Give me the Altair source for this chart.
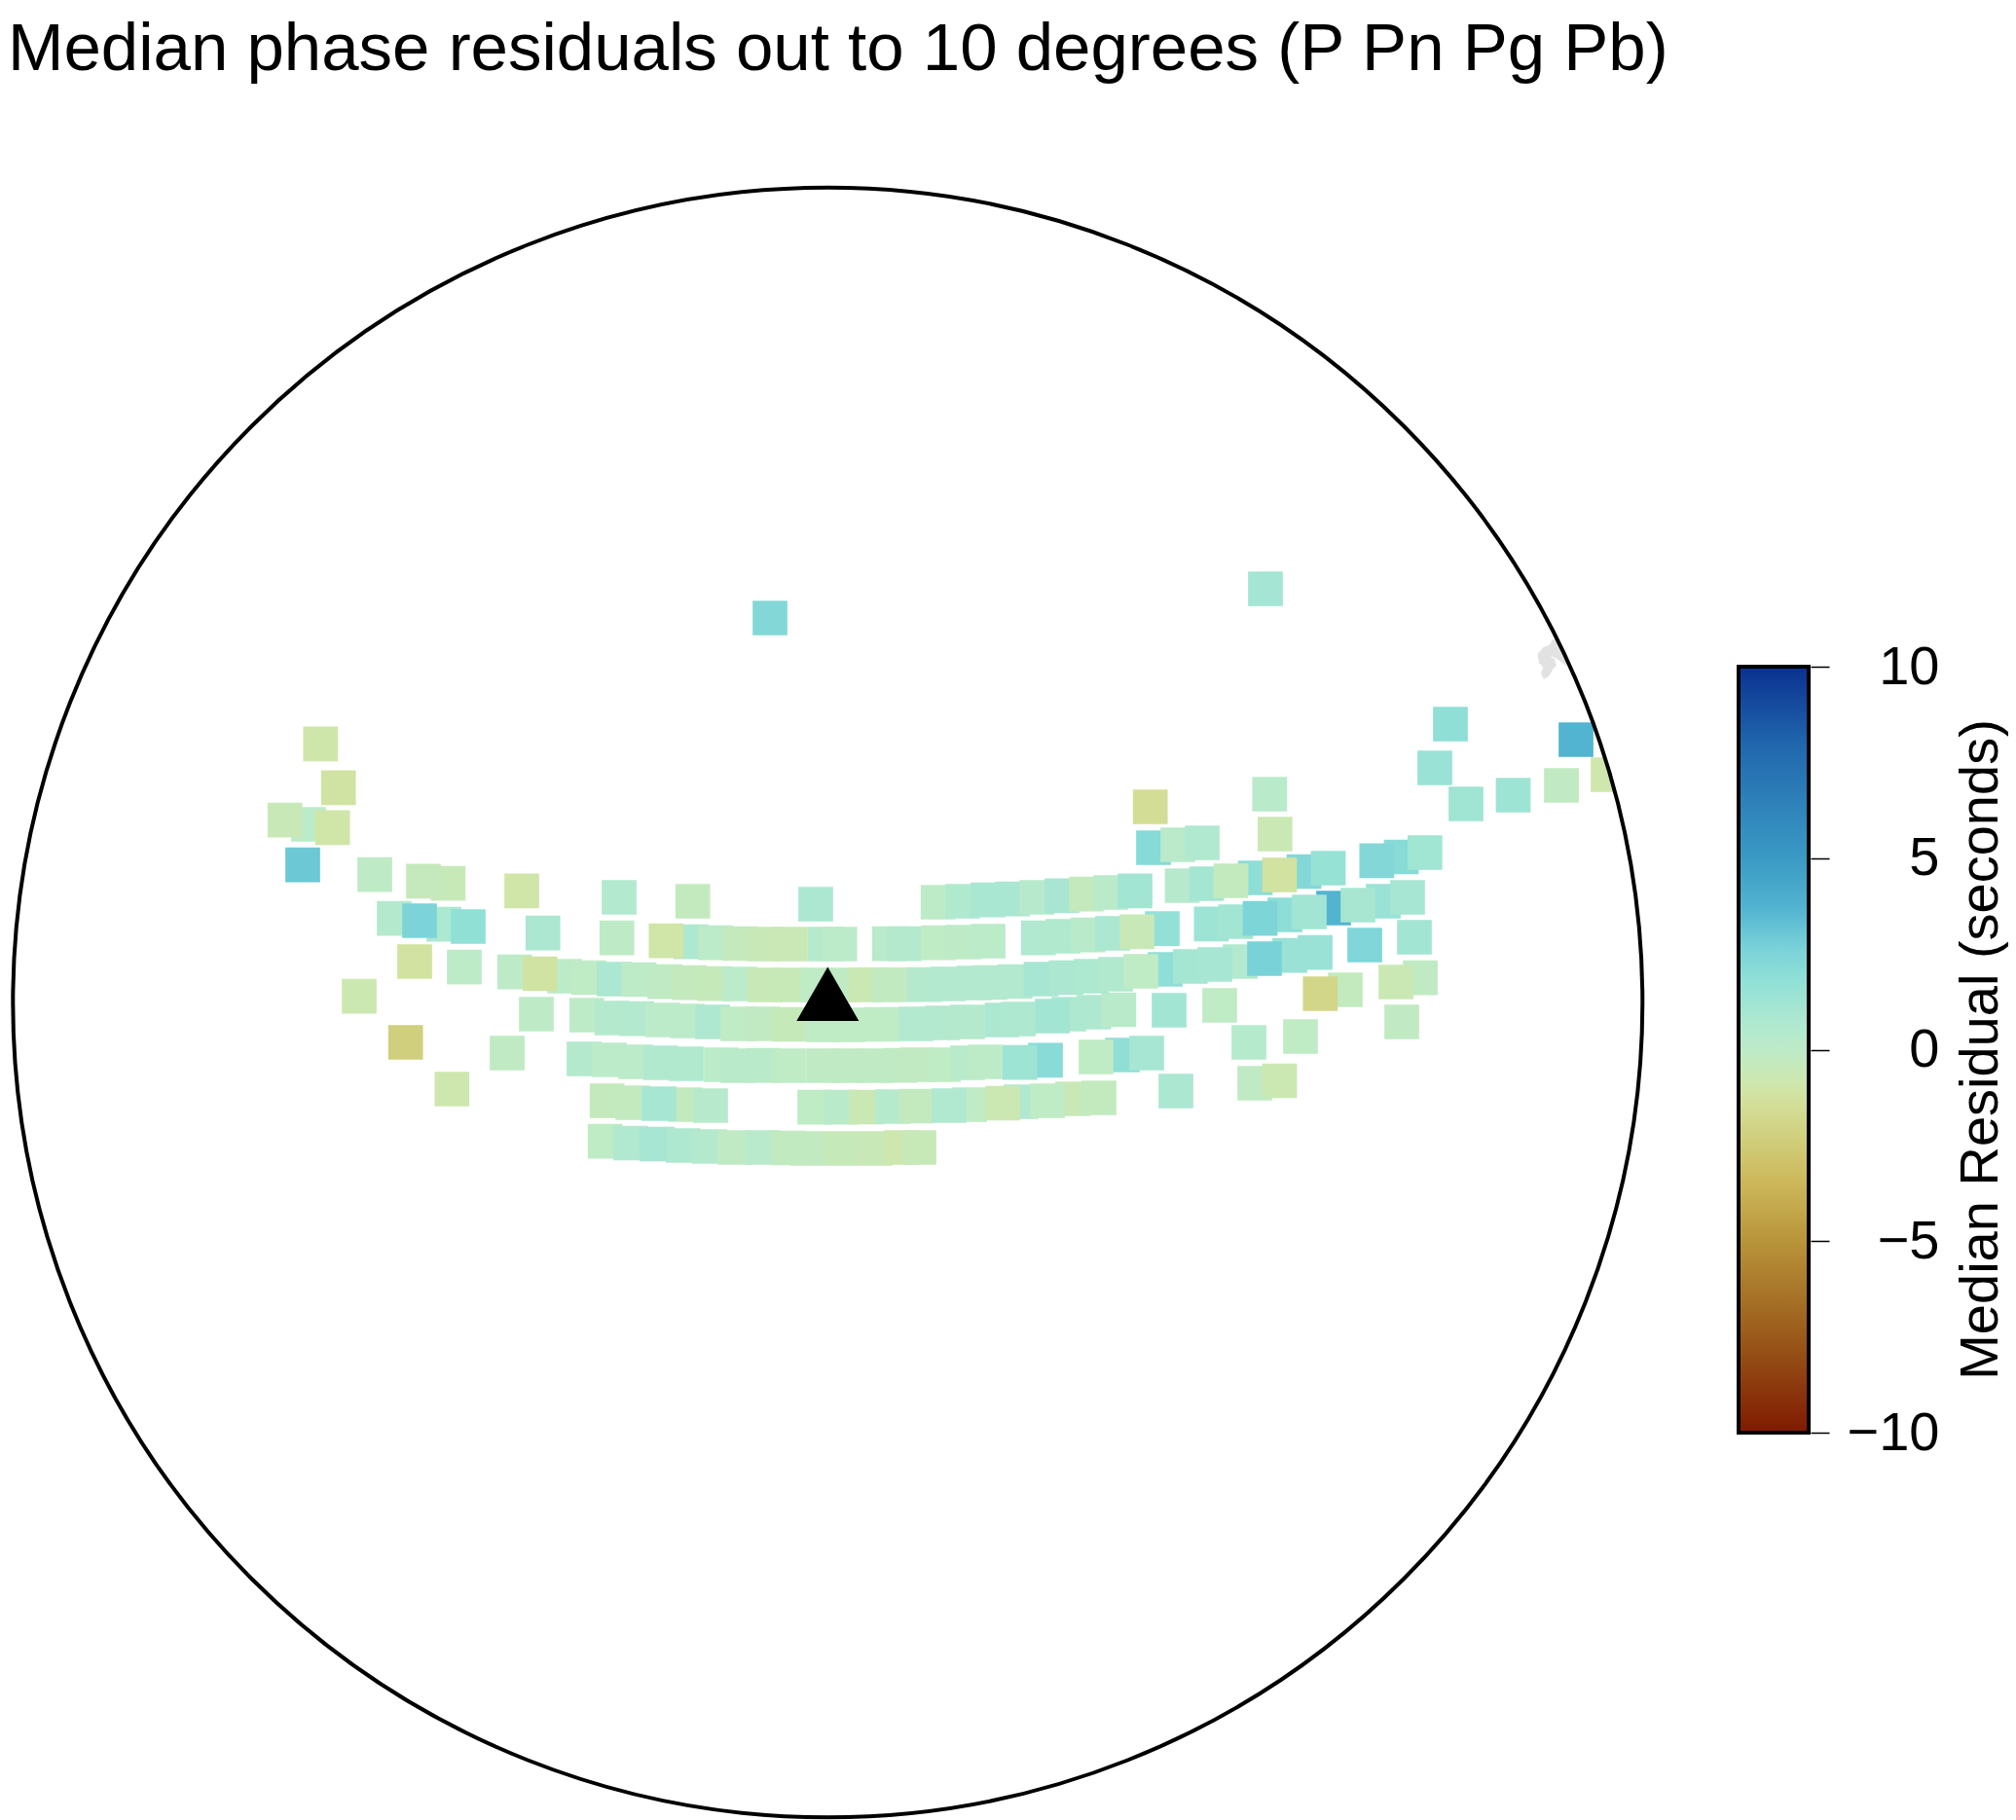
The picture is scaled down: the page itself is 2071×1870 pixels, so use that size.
import altair as alt
import pandas as pd

TITLE = "Median phase residuals out to 10 degrees (P Pn Pg Pb)"
BAR_TITLE = "Median Residual (seconds)"
FONT = "Liberation Sans"

# Residual colour scale
scale_values = [-10, -7.5, -5, -3.4, -2.3, -1.5, -0.9, 0, 0.75, 1.8, 2.6, 3.7, 5, 7.9, 10]
scale_colors = ["#7f1a00", "#9a5a1a", "#b8943a", "#cdb95c", "#d0cf7d", "#d4dd95", "#cfe7ac",
                "#bdebc8", "#aee8d1", "#90e0d6", "#7bd3d8", "#52b4d0", "#3a9ac4", "#2168ae", "#0a3190"]
bar_ticks = [-10, -5, 0, 5, 10]

# Stations: map position and median residual
station_x = [
    621.7, 648, 675, 701.7, 729, 755, 784, 810, 830, 864, 899, 925.7, 944,
    623.7, 650, 703.7, 677, 730, 837, 863.7, 890, 917, 941, 996, 1049, 1102, 975, 1030, 1076, 1129,
    600, 626, 653, 678.7, 705, 741, 758, 784, 810, 846, 871, 898, 924.5, 942, 969, 994, 1012, 1074, 1047.7, 1153, 1126, 1178,
    602.7, 628.7, 654, 681, 706, 732, 758, 784, 811, 846, 871, 906, 941, 968, 994, 1029.5, 1098, 1046, 1081, 1123.5, 1149.3,
    528.7, 580, 605, 631, 656.5, 554.7, 683, 708.5, 734, 760, 786, 812, 839, 864, 889, 914.3, 949, 974, 1000.7, 1017, 1042.7, 1069.5, 1095, 1121, 1146, 1197, 1172, 1222.8, 1274, 1248, 1325, 1299, 1351,
    710, 735, 760, 785.7, 812, 847.7, 862.7, 913.7, 929, 964, 989.7, 1015, 1066.7, 1092, 1117.7, 1143, 1194, 1168, 1244.3, 1269.3, 1320, 1294.5, 1370, 1345, 1421, 1395, 1446,
    963.7, 989, 1015, 1040, 1065.3, 1091, 1116, 1141, 1166, 1214.5, 1239.5, 1289.5, 1264.5, 1339.5, 1364.5, 1314.5, 1439.5, 1414.3, 1463.8,
    329.3, 347.7, 317, 292.7, 341.7, 311, 385, 460.3, 435, 536, 405, 456, 431, 481, 557.7, 636, 711.7, 633.7, 684.3, 838, 426, 477, 369, 416.7, 521, 464.3, 551,
    791, 1300, 1181.7, 1304.3, 1309.8, 1185, 1210, 1235, 1490, 1474, 1506, 1554.5, 1604, 1619, 1652, 1402, 1453, 1201, 1253, 1283, 1336, 1382, 1356.3, 1459, 1434, 1440, 1289, 1314.5, 1208,
]
station_y = [
    1172.7, 1174.5, 1175.5, 1177, 1178, 1179, 1179, 1179.5, 1180, 1180, 1180, 1179, 1179,
    1131, 1133, 1135, 1134, 1136, 1137.7, 1137.7, 1137.5, 1137, 1136.5, 1135, 1132, 1129, 1136, 1133.5, 1131, 1128,
    1088, 1089, 1091, 1092, 1093, 1094, 1095, 1094.7, 1095, 1095, 1095, 1095, 1094.7, 1094, 1094, 1092, 1091, 1089.3, 1091.7, 1084, 1086, 1082,
    1043, 1046, 1046.7, 1048, 1049, 1050, 1052, 1052, 1052.5, 1053, 1053, 1052.5, 1052, 1051, 1050, 1048, 1042, 1047, 1044, 1040, 1037.5,
    998.7, 1003, 1004.5, 1006, 1006.5, 1000.5, 1008.7, 1009.7, 1010.7, 1011, 1012, 1012, 1012, 1012, 1011.8, 1011.8, 1011.7, 1011, 1010, 1009.5, 1008.5, 1006, 1004.5, 1003, 1001, 996, 998, 993, 988, 991, 981.7, 985, 978.7,
    967.7, 968.7, 969.5, 970, 970, 970, 970, 969.7, 969.7, 968.7, 968, 967, 963.7, 962, 960.7, 959, 954.2, 957.3, 949.3, 947, 940, 943.7, 933, 937, 926, 930, 922,
    927, 926, 924.7, 923.7, 922, 920.3, 918.7, 917, 915.3, 910, 908, 902, 905, 895.5, 892, 899, 880.5, 884.3, 876,
    764.3, 809.3, 847, 842.7, 850.3, 888.7, 898.7, 907.7, 905.3, 915.3, 943.7, 949.7, 946, 952, 958.7, 922, 926, 963.7, 966.7, 929, 988, 993.7, 1023.7, 1071, 1082, 1119, 1042,
    635, 605, 829, 816, 857, 871, 868, 866, 744, 789, 826, 817, 807, 760, 796, 971, 963, 1038, 1033, 1071, 1065, 1017, 1021, 1004.7, 1009, 1050, 1113, 1110.5, 1121,
]
station_residual = [
    -0.1, 0.65, 1.0, 0.7, 0.4, -0.15, 0.25, -0.25, -0.25, -0.45, -0.55, -0.85, -0.5,
    -0.35, -0.3, -0.3, 1.0, 0.3, -0.1, 0.2, -0.65, 0.35, -0.3, -0.1, 0.65, -0.55, 0.65, -0.7, -0.1, -0.3,
    0.45, 0.05, 0.05, 0.6, 0.6, 0.05, 0.2, 0.2, -0.1, -0.15, -0.15, -0.15, -0.15, -0.2, -0.1, 0.2, 0.0, 2.1, 1.3, 1.85, -0.1, 1.0,
    0.0, 0.45, 0.5, 0.05, 0.05, 0.7, -0.1, -0.2, -0.45, -0.1, -0.1, -0.1, 0.5, 0.5, 0.45, 0.85, 0.75, 0.75, 1.15, 0.7, 0.2,
    0.0, 0.05, -0.1, 0.85, 0.0, -1.15, -0.15, -0.35, -0.45, 0.05, -0.55, -0.5, -0.1, -0.15, -0.65, -0.25, 0.45, 0.5, 0.5, 0.5, 0.5, 1.0, 0.85, 0.8, 0.6, 1.85, -0.1, 1.05, 0.55, 1.0, 1.5, 2.65, 1.5,
    0.8, 0.1, -0.35, -0.55, -0.6, 0.35, 0.05, 0.2, 0.4, -0.1, -0.05, 0.1, 0.65, 0.6, 0.2, 0.85, 1.7, -0.55, 1.3, 1.15, 1.9, 2.5, 3.7, 1.15, 1.5, 0.95, 1.0,
    0.0, 0.6, 0.9, 0.9, 0.3, 0.95, -0.35, 0.2, 1.15, 0.3, 1.05, 1.9, -0.3, 2.3, 1.6, -1.2, 2.1, 2.3, 1.2,
    -0.95, -1.15, 0.05, -0.55, -1.0, 3.0, -0.05, -0.5, -0.4, -1.0, 0.4, 0.8, 2.55, 1.75, 0.85, 0.55, -0.3, -0.05, -1.0, 0.85, -1.2, 0.0, -0.75, -2.3, -0.15, -0.85, -0.05,
    2.3, 1.1, -1.5, 0.2, -0.65, 2.2, 0.15, 0.65, 1.85, 1.5, 1.25, 1.3, -0.2, 3.7, -0.9, 2.4, 1.15, 1.15, -0.1, 0.35, -0.1, -0.3, -1.9, -0.15, -0.65, -0.2, -0.15, -0.7, 0.85,
]

# Coastline fragment near the map rim
coast_x = [1596, 1593.3, 1586.7, 1581.7, 1582.7, 1586, 1587.3, 1585, 1586.7, 1590, 1593.3, 1596.7, 1595, 1590, 1593.3, 1600, 1606.7, 1603.3]
coast_y = [659.3, 664, 666.7, 672.7, 680, 683.3, 686.7, 691.7, 695, 693.3, 686.7, 683.3, 678.3, 676, 671.7, 675, 680, 663.3]

# Map centre (recording station) and map rim
center_x = [850.3]
center_y = [1030]
event_y = [1021.3]
title_x = [8]
title_y = [72]

stations = pd.DataFrame({"x": station_x, "y": station_y, "residual": station_residual})
coast = pd.DataFrame({"x": coast_x, "y": coast_y, "i": list(range(len(coast_x)))})
center = pd.DataFrame({"x": center_x, "y": center_y})
event = pd.DataFrame({"x": center_x, "y": event_y})
bar = pd.DataFrame({"lo": [bar_ticks[0]], "hi": [bar_ticks[-1]]})
heading = pd.DataFrame({"x": title_x, "y": title_y, "t": [TITLE]})

px = alt.Scale(domain=[8, 1860], nice=False, zero=False)
py = alt.Scale(domain=[1870, 8], nice=False, zero=False)
X = alt.X("x:Q", scale=px, axis=None)
Y = alt.Y("y:Q", scale=py, axis=None)

coast_layer = alt.Chart(coast).mark_line(
    interpolate="linear-closed", color="#e2e2e2", strokeWidth=4, fill="#e2e2e2"
).encode(x=X, y=Y, order="i:Q")

square_layer = alt.Chart(stations).mark_square(size=1274, opacity=1, filled=True).encode(
    x=X, y=Y,
    color=alt.Color("residual:Q", legend=None,
                    scale=alt.Scale(domain=scale_values, range=scale_colors, interpolate="rgb")),
)

mask_layer = alt.Chart(center).mark_point(
    shape="circle", size=3020644, filled=False, stroke="white", strokeWidth=60, opacity=1
).encode(x=X, y=Y)

rim_layer = alt.Chart(center).mark_point(
    shape="circle", size=2802276, filled=False, stroke="black", strokeWidth=4, opacity=1
).encode(x=X, y=Y)

event_layer = alt.Chart(event).mark_point(
    shape="triangle-up", size=4096, filled=True, color="black", opacity=1
).encode(x=X, y=Y)

heading_layer = alt.Chart(heading).mark_text(
    align="left", baseline="alphabetic", font=FONT, fontSize=69, color="black"
).encode(x=X, y=Y, text="t:N")

span = scale_values[-1] - scale_values[0]
gradient = alt.Gradient(
    gradient="linear", x1=0, x2=0, y1=1, y2=0,
    stops=[alt.GradientStop(color=c, offset=(v - scale_values[0]) / span)
           for v, c in zip(scale_values, scale_colors)],
)
bar_layer = alt.Chart(bar).mark_rect(fill=gradient, stroke="black", strokeWidth=4).encode(
    x=alt.value(1778), x2=alt.value(1850),
    y=alt.Y("lo:Q",
            scale=alt.Scale(domain=[-10, 10], range=[1464, 677], nice=False, zero=False),
            axis=alt.Axis(
                orient="right", values=bar_ticks, format="d", domain=False, grid=False,
                ticks=True, tickSize=19, tickWidth=1.5, tickColor="black",
                labels=True, labelFont=FONT, labelFontSize=56, labelColor="black",
                labelAlign="right", labelBaseline="middle", labelPadding=113, labelFlush=False,
                labelOverlap=False,
                title=BAR_TITLE, titleFont=FONT, titleFontSize=56, titleFontWeight="normal",
                titleColor="black", titleAngle=270, titleAlign="center",
                titleBaseline="alphabetic", titleX=191, titleY=1070,
            )),
    y2="hi:Q",
)

chart = alt.layer(
    coast_layer, square_layer, mask_layer, rim_layer, event_layer, heading_layer, bar_layer
).resolve_scale(y="independent", color="independent").properties(
    width=1852,
    height=1862,
    autosize=alt.AutoSizeParams(type="none"),
    padding={"left": 0, "top": 0, "right": 203, "bottom": 0},
    background="white",
).configure_view(stroke=None)

chart.save("out.html", embed_options={"renderer": "svg", "actions": False})
